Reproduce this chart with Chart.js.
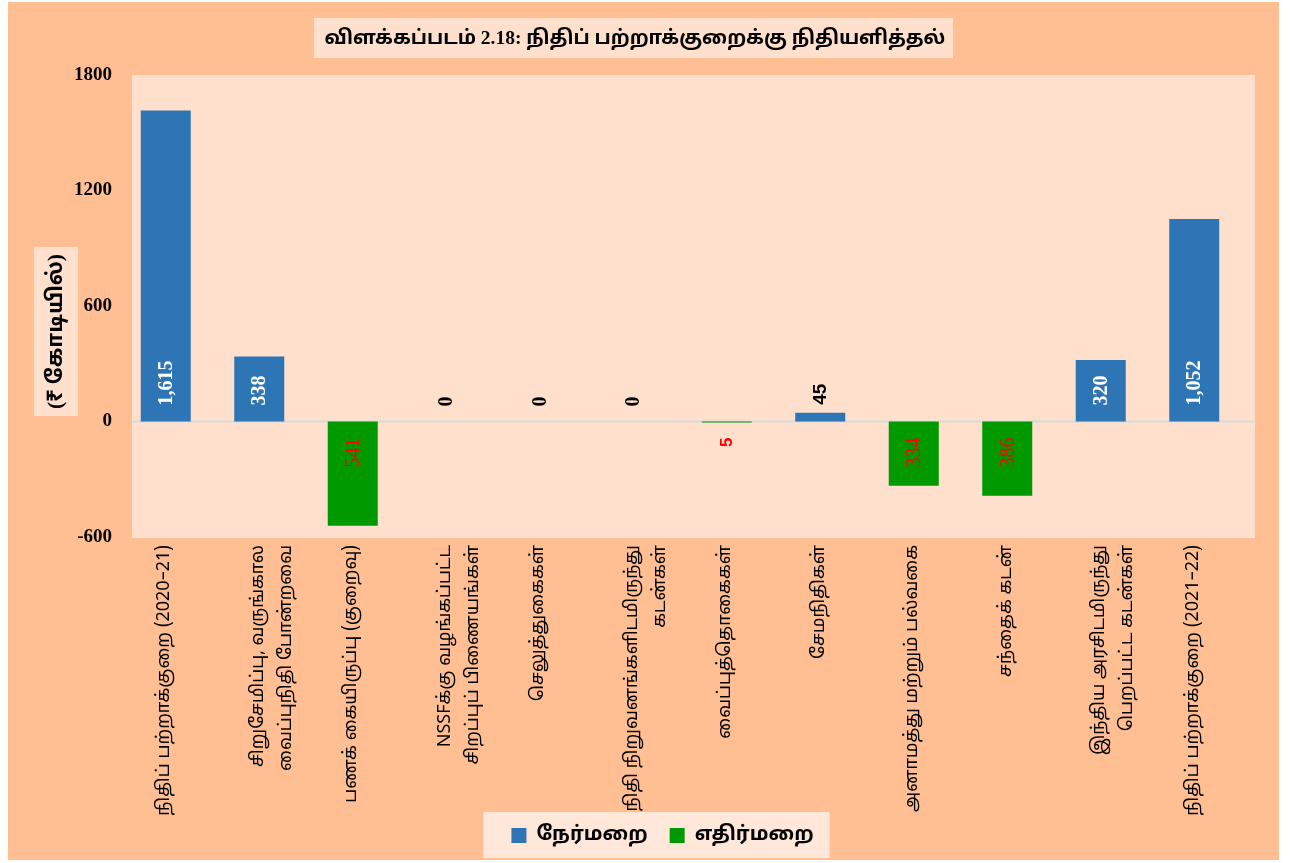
<!DOCTYPE html>
<html><head><meta charset="utf-8">
<script src="https://cdn.jsdelivr.net/npm/chart.js@4.4.1/dist/chart.umd.min.js"></script>
<style>
html,body{margin:0;padding:0;background:#ffffff;}
#wrap{position:absolute;left:8px;top:2px;width:1271px;height:858px;background:#FFBF93;}
canvas{display:block;}
</style></head><body>
<div id="wrap"><canvas id="c" width="1271" height="858"></canvas></div>
<script>
const chartTitle = 'விளக்கப்படம் 2.18: நிதிப் பற்றாக்குறைக்கு நிதியளித்தல்';
const yAxisTitle = '(₹ கோடியில்)';
const categories = [
  'நிதிப் பற்றாக்குறை (2020–21)',
  ['சிறுசேமிப்பு, வருங்கால', 'வைப்புநிதி போன்றவை'],
  'பணக் கையிருப்பு (குறைவு)',
  ['NSSFக்கு வழங்கப்பட்ட', 'சிறப்புப் பிணையங்கள்'],
  'செலுத்துகைகள்',
  ['நிதி நிறுவனங்களிடமிருந்து', 'கடன்கள்'],
  'வைப்புத்தொகைகள்',
  'சேமநிதிகள்',
  'அனாமத்து மற்றும் பல்வகை',
  'சந்தைக் கடன்',
  ['இந்திய அரசிடமிருந்து', 'பெறப்பட்ட கடன்கள்'],
  'நிதிப் பற்றாக்குறை (2021–22)'
];
const seriesNames = ['நேர்மறை', 'எதிர்மறை'];
const positiveValues = [1615, 338, null, 0, 0, 0, null, 45, null, null, 320, 1052];
const negativeValues = [null, null, -541, null, null, null, -5, null, -334, -386, null, null];
const yTicks = [-600, 0, 600, 1200, 1800];

const TAMIL = "'Noto Sans Tamil', 'Lohit Tamil', Latha, 'Noto Sans', sans-serif";
const SERIF = "'Liberation Serif', 'Noto Serif Tamil', 'Noto Sans Tamil', serif";
const HEAD = "'Liberation Serif', 'Noto Sans Tamil', 'Lohit Tamil', sans-serif";
const BLUE = '#2E75B6', GREEN = '#009900';

const decor = {
  id: 'decor',
  afterLayout(chart) {
    const lg = chart.legend;
    if (lg) { lg.left -= 17.5; lg.right -= 17.5; }
    // let the rotated category labels run past the legend row (they sit beside it)
    const x = chart.scales.x;
    x.bottom = chart.height; x.height = x.bottom - x.top;
  },
  beforeDraw(chart) {
    const ctx = chart.ctx, a = chart.chartArea;
    ctx.save();
    ctx.fillStyle = '#FFE0CC';
    ctx.fillRect(a.left + 13, a.top, a.right - a.left + 1, a.bottom - a.top + 1);
    ctx.fillRect(306, 16, 639, 40);
    ctx.fillStyle = '#000';
    ctx.font = 'bold 19.5px ' + HEAD;
    ctx.textAlign = 'center'; ctx.textBaseline = 'middle';
    ctx.fillText(chartTitle, 627, 37);
    ctx.fillStyle = '#FFE0CC';
    ctx.fillRect(26, 245, 44, 169);
    ctx.translate(48, 329.5);
    ctx.rotate(-Math.PI / 2);
    ctx.fillStyle = '#000';
    ctx.font = 'bold 21.5px ' + HEAD;
    ctx.fillText(yAxisTitle, 0, 0);
    ctx.restore();
    const lg = chart.legend;
    if (lg && lg.legendHitBoxes && lg.legendHitBoxes.length) {
      const hb = lg.legendHitBoxes;
      let l = Infinity, r = -Infinity, t = Infinity;
      hb.forEach(h => { l = Math.min(l, h.left); r = Math.max(r, h.left + h.width); t = Math.min(t, h.top); });
      ctx.save();
      ctx.fillStyle = '#FFE8DA';
      ctx.fillRect(l - 28, t - 13.5, (r - l) + 44, 46);
      ctx.restore();
    }
  },
  beforeDatasetsDraw(chart) {
    const ctx = chart.ctx, a = chart.chartArea;
    const y0 = chart.scales.y.getPixelForValue(0);
    ctx.save();
    ctx.strokeStyle = '#D9D9D9';
    ctx.lineWidth = 2;
    ctx.beginPath();
    ctx.moveTo(a.left + 13, y0);
    ctx.lineTo(a.right + 14, y0);
    ctx.stroke();
    ctx.restore();
  },
  afterDatasetsDraw(chart) {
    const ctx = chart.ctx;
    const y0 = chart.scales.y.getPixelForValue(0);
    ctx.save();
    chart.data.datasets.forEach((ds, di) => {
      const meta = chart.getDatasetMeta(di);
      meta.data.forEach((el, i) => {
        const v = ds.data[i];
        if (v === null || v === undefined) return;
        const txt = Math.abs(v).toLocaleString('en-US');
        ctx.save();
        let py, align, color, font;
        if (v >= 100) {
          py = y0 - 16; align = 'left'; color = '#FFFFFF'; font = 'bold 20px ' + SERIF;
        } else if (v >= 0) {
          py = Math.min(el.y - 8, y0 - 15); align = 'left'; color = '#000000';
          font = v > 0 ? "bold 19px 'Liberation Sans', Arial, sans-serif" : 'bold 20px ' + SERIF;
        } else if (v > -100) {
          py = y0 + 16; align = 'right'; color = '#FF0000'; font = "bold 17px 'Liberation Sans', Arial, sans-serif";
        } else {
          py = y0 + 16; align = 'right'; color = '#FF0000'; font = '20px ' + SERIF;
        }
        ctx.translate(el.x, py);
        ctx.rotate(-Math.PI / 2);
        ctx.textAlign = align; ctx.textBaseline = 'middle';
        ctx.fillStyle = color; ctx.font = font;
        ctx.fillText(txt, 0, 1);
        ctx.restore();
      });
    });
    ctx.restore();
  }
};

new Chart(document.getElementById('c'), {
  type: 'bar',
  data: {
    labels: categories,
    datasets: [
      { label: seriesNames[0], data: positiveValues, backgroundColor: BLUE, borderWidth: 0 },
      { label: seriesNames[1], data: negativeValues, backgroundColor: GREEN, borderWidth: 0 }
    ]
  },
  options: {
    responsive: false,
    animation: false,
    devicePixelRatio: 1,
    datasets: { bar: { barPercentage: 0.535, categoryPercentage: 1.0 } },
    layout: { padding: { top: 73, left: 0, right: 38, bottom: 4.5 } },
    plugins: {
      title: { display: false },
      tooltip: { enabled: false },
      legend: {
        display: true,
        position: 'bottom',
        fullSize: false,
        labels: {
          boxWidth: 15, boxHeight: 15, padding: 22, color: '#000',
          font: { family: TAMIL, size: 20, weight: 'bold' }
        }
      }
    },
    scales: {
      x: {
        stacked: true,
        grid: { display: false, drawTicks: false },
        border: { display: false },
        afterFit(s) { s.height = 266.5; },
        ticks: {
          autoSkip: false, maxRotation: 90, minRotation: 90, padding: 8, color: '#000',
          font: { family: TAMIL, size: 18, lineHeight: 1.55 }
        }
      },
      y: {
        stacked: true,
        min: -600, max: 1800,
        grid: { display: false, drawTicks: false },
        border: { display: false },
        afterFit(s) { s.width = 111; },
        afterBuildTicks(s) { s.ticks = yTicks.map(v => ({ value: v })); },
        ticks: {
          padding: 7, color: '#000',
          font: { family: SERIF, size: 19, weight: 'bold' },
          callback: v => String(v)
        }
      }
    }
  },
  plugins: [decor]
});
</script>
</body></html>
